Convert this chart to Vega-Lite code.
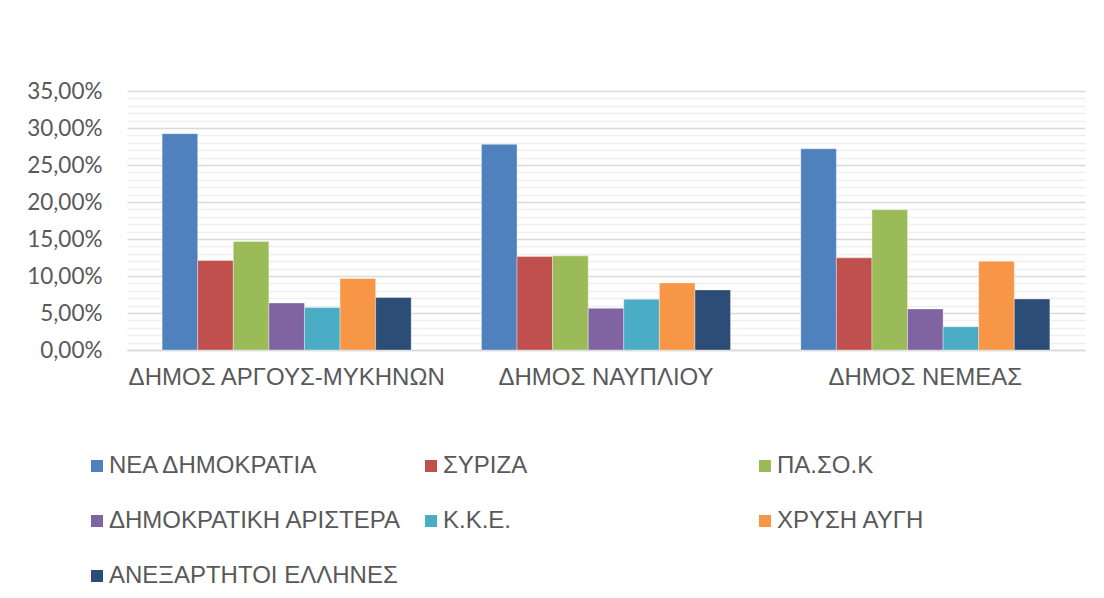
{
  "$schema": "https://vega.github.io/schema/vega-lite/v6.json",
  "width": 958,
  "height": 259,
  "autosize": {"type": "none"},
  "padding": {"left": 127, "top": 91, "right": 19, "bottom": 248},
  "background": "#ffffff",
  "config": {
    "view": {"stroke": null},
    "font": "Liberation Sans"
  },
  "data": {
    "values": [
      {"dimos": "ΔΗΜΟΣ ΑΡΓΟΥΣ-ΜΥΚΗΝΩΝ", "party": "ΝΕΑ ΔΗΜΟΚΡΑΤΙΑ", "order": 1, "value": 0.2923},
      {"dimos": "ΔΗΜΟΣ ΑΡΓΟΥΣ-ΜΥΚΗΝΩΝ", "party": "ΣΥΡΙΖΑ", "order": 2, "value": 0.1209},
      {"dimos": "ΔΗΜΟΣ ΑΡΓΟΥΣ-ΜΥΚΗΝΩΝ", "party": "ΠΑ.ΣΟ.Κ", "order": 3, "value": 0.1466},
      {"dimos": "ΔΗΜΟΣ ΑΡΓΟΥΣ-ΜΥΚΗΝΩΝ", "party": "ΔΗΜΟΚΡΑΤΙΚΗ ΑΡΙΣΤΕΡΑ", "order": 4, "value": 0.0636},
      {"dimos": "ΔΗΜΟΣ ΑΡΓΟΥΣ-ΜΥΚΗΝΩΝ", "party": "Κ.Κ.Ε.", "order": 5, "value": 0.0573},
      {"dimos": "ΔΗΜΟΣ ΑΡΓΟΥΣ-ΜΥΚΗΝΩΝ", "party": "ΧΡΥΣΗ ΑΥΓΗ", "order": 6, "value": 0.0965},
      {"dimos": "ΔΗΜΟΣ ΑΡΓΟΥΣ-ΜΥΚΗΝΩΝ", "party": "ΑΝΕΞΑΡΤΗΤΟΙ ΕΛΛΗΝΕΣ", "order": 7, "value": 0.0708},
      {"dimos": "ΔΗΜΟΣ ΝΑΥΠΛΙΟΥ", "party": "ΝΕΑ ΔΗΜΟΚΡΑΤΙΑ", "order": 1, "value": 0.2779},
      {"dimos": "ΔΗΜΟΣ ΝΑΥΠΛΙΟΥ", "party": "ΣΥΡΙΖΑ", "order": 2, "value": 0.1263},
      {"dimos": "ΔΗΜΟΣ ΝΑΥΠΛΙΟΥ", "party": "ΠΑ.ΣΟ.Κ", "order": 3, "value": 0.1272},
      {"dimos": "ΔΗΜΟΣ ΝΑΥΠΛΙΟΥ", "party": "ΔΗΜΟΚΡΑΤΙΚΗ ΑΡΙΣΤΕΡΑ", "order": 4, "value": 0.0563},
      {"dimos": "ΔΗΜΟΣ ΝΑΥΠΛΙΟΥ", "party": "Κ.Κ.Ε.", "order": 5, "value": 0.0685},
      {"dimos": "ΔΗΜΟΣ ΝΑΥΠΛΙΟΥ", "party": "ΧΡΥΣΗ ΑΥΓΗ", "order": 6, "value": 0.0907},
      {"dimos": "ΔΗΜΟΣ ΝΑΥΠΛΙΟΥ", "party": "ΑΝΕΞΑΡΤΗΤΟΙ ΕΛΛΗΝΕΣ", "order": 7, "value": 0.0812},
      {"dimos": "ΔΗΜΟΣ ΝΕΜΕΑΣ", "party": "ΝΕΑ ΔΗΜΟΚΡΑΤΙΑ", "order": 1, "value": 0.2720},
      {"dimos": "ΔΗΜΟΣ ΝΕΜΕΑΣ", "party": "ΣΥΡΙΖΑ", "order": 2, "value": 0.1245},
      {"dimos": "ΔΗΜΟΣ ΝΕΜΕΑΣ", "party": "ΠΑ.ΣΟ.Κ", "order": 3, "value": 0.1895},
      {"dimos": "ΔΗΜΟΣ ΝΕΜΕΑΣ", "party": "ΔΗΜΟΚΡΑΤΙΚΗ ΑΡΙΣΤΕΡΑ", "order": 4, "value": 0.0555},
      {"dimos": "ΔΗΜΟΣ ΝΕΜΕΑΣ", "party": "Κ.Κ.Ε.", "order": 5, "value": 0.0315},
      {"dimos": "ΔΗΜΟΣ ΝΕΜΕΑΣ", "party": "ΧΡΥΣΗ ΑΥΓΗ", "order": 6, "value": 0.1199},
      {"dimos": "ΔΗΜΟΣ ΝΕΜΕΑΣ", "party": "ΑΝΕΞΑΡΤΗΤΟΙ ΕΛΛΗΝΕΣ", "order": 7, "value": 0.0690}
    ]
  },
  "layer": [
    {
      "mark": {"type": "rule", "opacity": 0},
      "encoding": {
        "y": {
          "field": "value", "type": "quantitative",
          "scale": {"domain": [0, 0.35], "nice": false},
          "axis": {
            "orient": "right",
            "values": [0.01, 0.02, 0.03, 0.04, 0.06, 0.07, 0.08, 0.09, 0.11, 0.12, 0.13, 0.14, 0.16, 0.17, 0.18, 0.19, 0.21, 0.22, 0.23, 0.24, 0.26, 0.27, 0.28, 0.29, 0.31, 0.32, 0.33, 0.34],
            "grid": true, "gridColor": "#efefef", "gridWidth": 1.5,
            "labels": false, "ticks": false, "domain": false, "title": null
          }
        }
      }
    },
    {
      "mark": {"type": "bar", "stroke": "#ffffff", "strokeOpacity": 0.45, "strokeWidth": 0.8},
      "encoding": {
        "x": {
          "field": "dimos", "type": "nominal", "sort": null,
          "scale": {"paddingInner": 0.22, "paddingOuter": 0.11},
          "axis": {
            "title": null, "labelAngle": 0, "labelFontSize": 24, "labelColor": "#595959", "labelLimit": 500,
            "labelPadding": 15, "ticks": false, "tickSize": 0, "domainColor": "#d9d9d9", "domainWidth": 1.5
          }
        },
        "xOffset": {"field": "party", "type": "nominal", "sort": {"field": "order"}, "scale": {"paddingInner": 0, "paddingOuter": 0}},
        "y": {
          "field": "value", "type": "quantitative",
          "scale": {"domain": [0, 0.35], "nice": false},
          "axis": {
            "orient": "left",
            "values": [0, 0.05, 0.1, 0.15, 0.2, 0.25, 0.3, 0.35],
            "labelExpr": "replace(format(datum.value, '.2%'), '.', ',')",
            "labelFont": "Lato", "labelFontSize": 22.5, "labelColor": "#595959",
            "labelPadding": 25, "ticks": false, "tickSize": 0, "domain": false,
            "grid": true, "gridColor": "#d9d9d9", "gridWidth": 1.5, "title": null
          }
        },
        "color": {
          "field": "party", "type": "nominal",
          "sort": ["ΝΕΑ ΔΗΜΟΚΡΑΤΙΑ", "ΣΥΡΙΖΑ", "ΠΑ.ΣΟ.Κ", "ΔΗΜΟΚΡΑΤΙΚΗ ΑΡΙΣΤΕΡΑ", "Κ.Κ.Ε.", "ΧΡΥΣΗ ΑΥΓΗ", "ΑΝΕΞΑΡΤΗΤΟΙ ΕΛΛΗΝΕΣ"],
          "scale": {
            "domain": ["ΝΕΑ ΔΗΜΟΚΡΑΤΙΑ", "ΣΥΡΙΖΑ", "ΠΑ.ΣΟ.Κ", "ΔΗΜΟΚΡΑΤΙΚΗ ΑΡΙΣΤΕΡΑ", "Κ.Κ.Ε.", "ΧΡΥΣΗ ΑΥΓΗ", "ΑΝΕΞΑΡΤΗΤΟΙ ΕΛΛΗΝΕΣ"],
            "range": ["#4F81BD", "#C0504D", "#9BBB59", "#8064A2", "#4BACC6", "#F79646", "#2C4D75"]
          },
          "legend": {
            "title": null, "orient": "none", "legendX": -42, "legendY": 363,
            "direction": "horizontal", "columns": 3, "gridAlign": "all",
            "symbolType": "square", "symbolSize": 144, "symbolStrokeWidth": 0, "symbolOpacity": 1,
            "labelFontSize": 24, "labelColor": "#595959", "labelOffset": 0, "labelLimit": 400,
            "columnPadding": 17, "rowPadding": 31
          }
        }
      }
    }
  ],
  "resolve": {"axis": {"y": "independent"}}
}
